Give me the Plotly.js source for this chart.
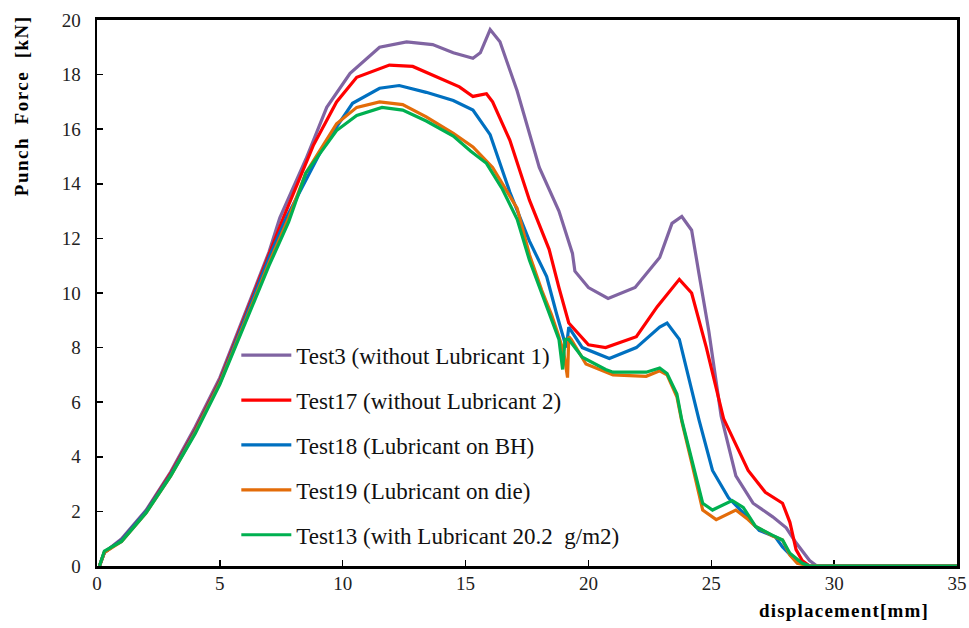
<!DOCTYPE html>
<html>
<head>
<meta charset="utf-8">
<script src="https://cdn.plot.ly/plotly-3.0.1.min.js"></script>
<style>html,body{margin:0;padding:0;background:#fff;}#chart{width:969px;height:628px;}</style>
</head>
<body>
<div id="chart"></div>
<script>
// Series names
const seriesNames = [
  "Test3 (without Lubricant 1)",
  "Test17 (without Lubricant 2)",
  "Test18 (Lubricant on BH)",
  "Test19 (Lubricant on die)",
  "Test13 (with Lubricant 20.2  g/m2)"
];
const seriesColors = ["#8064A2", "#FF0000", "#0070C0", "#E36C09", "#00B050"];

// Test3 (purple)
const test3X = [0.1,0.3,1,2,3,4,5,6,7,7.44,8.5,9.35,10.3,11.5,12.6,13.66,14.5,15.3,15.6,16.0,16.4,17.1,18.0,18.8,19.35,19.45,20.0,20.8,21.9,22.9,23.4,23.8,24.2,24.5,24.9,25.4,26.0,26.7,27.5,28.05,28.45,29.0,29.3,35];
const test3Y = [0,0.5,1.0,2.05,3.45,5.1,6.9,9.2,11.5,12.75,14.9,16.8,18.05,19.0,19.2,19.1,18.8,18.6,18.8,19.65,19.2,17.4,14.6,13.0,11.45,10.8,10.2,9.8,10.2,11.3,12.55,12.8,12.3,10.7,8.6,5.5,3.3,2.3,1.8,1.4,0.85,0.2,0,0];

// Test17 (red)
const test17X = [0.1,0.3,1,2,3,4,5,6,7,7.56,8.8,9.75,10.57,11.9,12.85,13.9,14.75,15.3,15.85,16.1,16.8,17.6,18.4,18.8,19.2,20.0,20.7,21.95,22.8,23.7,24.2,24.8,25.5,26.5,27.2,27.9,28.2,28.45,28.7,29.0,35];
const test17Y = [0,0.5,0.95,2.0,3.4,5.0,6.8,9.1,11.4,12.7,15.4,17.0,17.9,18.35,18.3,17.9,17.55,17.2,17.3,17.0,15.6,13.4,11.6,10.2,8.9,8.1,8.0,8.4,9.5,10.5,10.0,8.0,5.4,3.5,2.7,2.3,1.6,0.6,0.2,0,0];

// Test18 (blue)
const test18X = [0.1,0.3,1,2,3,4,5,6,7,7.7,9.2,10.4,11.5,12.3,13.4,14.5,15.3,16.0,16.8,17.6,18.3,18.7,19.0,19.1,19.2,19.75,20.85,21.95,22.9,23.2,23.7,24.1,24.5,25.05,25.7,26.3,26.95,27.6,27.9,28.3,28.7,29.0,35];
const test18Y = [0,0.5,0.95,2.0,3.35,4.95,6.75,9.0,11.3,12.75,15.35,16.95,17.5,17.6,17.35,17.05,16.7,15.8,13.7,11.9,10.6,9.25,8.3,8.0,8.75,8.0,7.6,8.0,8.75,8.9,8.3,6.8,5.35,3.5,2.5,1.95,1.3,1.07,0.7,0.33,0.1,0,0];

// Test19 (orange)
const test19X = [0.1,0.3,1,2,3,4,5,6,7,7.8,8.5,9.75,10.57,11.5,12.44,13.4,14.5,15.3,16.1,17.1,17.6,18.1,18.5,18.8,19.0,19.15,19.2,19.3,19.9,21.0,22.35,22.9,23.2,23.6,23.8,24.2,24.65,25.2,26.0,26.5,26.8,27.5,27.9,28.2,28.5,29.0,35];
const test19Y = [0,0.5,0.9,1.95,3.3,4.9,6.7,8.9,11.1,12.75,14.4,16.2,16.8,17.0,16.9,16.45,15.85,15.35,14.6,13.1,11.4,10.1,9.2,8.4,7.8,6.9,8.4,8.3,7.4,7.0,6.95,7.15,7.0,6.2,5.3,3.8,2.05,1.7,2.05,1.7,1.45,1.1,0.95,0.4,0.1,0,0];

// Test13 (green)
const test13X = [0.1,0.3,1,2,3,4,5,6,7,7.8,8.5,9.75,10.57,11.6,12.44,13.4,14.5,15.2,15.85,16.5,17.1,17.6,18.1,18.5,18.8,18.95,19.05,19.2,19.75,20.7,21.0,22.35,22.9,23.2,23.6,23.8,24.2,24.65,25.05,25.85,26.3,26.8,27.5,27.9,28.2,28.7,29.0,35];
const test13Y = [0,0.55,0.9,1.95,3.3,4.85,6.65,8.85,11.0,12.6,14.4,15.95,16.5,16.8,16.7,16.3,15.75,15.2,14.75,13.8,12.7,11.2,10.0,9.1,8.3,7.2,8.3,8.3,7.65,7.2,7.1,7.1,7.25,7.05,6.3,5.35,3.9,2.3,2.05,2.4,2.15,1.45,1.12,0.95,0.47,0.1,0,0];

const xs = [test3X, test17X, test18X, test19X, test13X];
const ys = [test3Y, test17Y, test18Y, test19Y, test13Y];

const serif = "Liberation Serif";

const traces = seriesNames.map((n, i) => ({
  type: "scatter",
  mode: "lines",
  name: n,
  x: xs[i],
  y: ys[i],
  legendgroup: "g" + i,
  line: {color: seriesColors[i], width: 3.2}
}));

const layout = {
  width: 969,
  height: 628,
  margin: {l: 97, r: 12, t: 20, b: 62},
  paper_bgcolor: "#fff",
  plot_bgcolor: "#fff",
  font: {family: serif, color: "#111", size: 16},
  showlegend: true,
  legend: {
    x: 0.162, y: 0.4255, xanchor: "left", yanchor: "top",
    bgcolor: "rgba(0,0,0,0)",
    font: {family: serif, size: 23, color: "#111"},
    tracegroupgap: 12,
    itemwidth: 50
  },
  xaxis: {
    range: [0, 35], dtick: 5, tick0: 0,
    showgrid: false, zeroline: false,
    showline: true, linecolor: "#000", linewidth: 3, mirror: true,
    ticks: "inside", ticklen: 6, tickcolor: "#000", tickwidth: 1.5,
    tickfont: {family: serif, size: 19, color: "#222"},
    ticklabelstandoff: -2,
    layer: "below traces"
  },
  yaxis: {
    range: [0, 20], dtick: 2, tick0: 0,
    showgrid: false, zeroline: false,
    showline: true, linecolor: "#000", linewidth: 2.5, mirror: true,
    ticks: "inside", ticklen: 6, tickcolor: "#000", tickwidth: 1.5,
    tickfont: {family: serif, size: 19, color: "#222"},
    ticklabelstandoff: 10,
    layer: "below traces"
  },
  annotations: [
    {
      text: "<b><span style=\"letter-spacing:1.5px\">Punch  Force  [kN]</span></b>",
      xref: "paper", yref: "paper",
      x: -0.087, y: 1.012, xanchor: "center", yanchor: "top",
      textangle: -90, showarrow: false,
      font: {family: serif, size: 19, color: "#000"}
    },
    {
      text: "<b><span style=\"letter-spacing:1.2px\">displacement[mm]</span></b>",
      xref: "paper", yref: "paper",
      x: 0.97, y: -0.082, xanchor: "right", yanchor: "middle",
      showarrow: false,
      font: {family: serif, size: 19, color: "#000"}
    }
  ]
};

Plotly.newPlot("chart", traces, layout, {displayModeBar: false, staticPlot: true});
</script>
</body>
</html>
